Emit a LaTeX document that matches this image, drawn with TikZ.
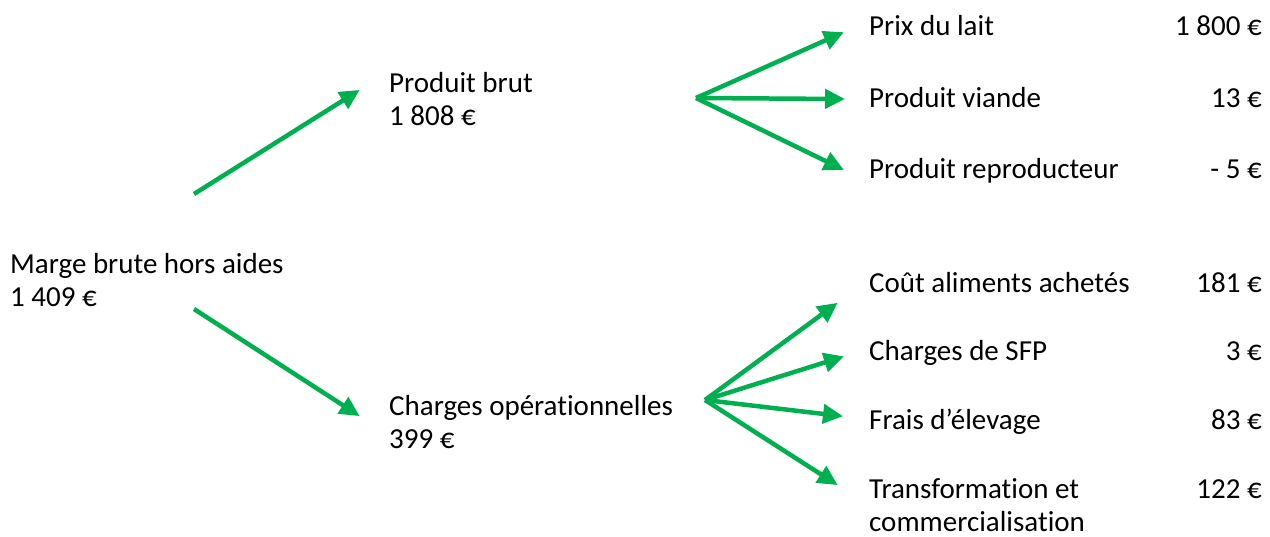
\documentclass[tikz,border=0pt]{standalone}
\usepackage{fontspec}
\setmainfont{Carlito}[Ligatures={NoCommon}]
\usetikzlibrary{arrows.meta}
\definecolor{officegreen}{HTML}{00B050}
\begin{document}
\begin{tikzpicture}[x=1pt,y=-1pt,
  lbl/.style={anchor=base west,inner sep=0pt,font=\fontsize{29}{33}\selectfont},
  val/.style={anchor=base east,inner sep=0pt,font=\fontsize{29}{33}\selectfont},
  garrow/.style={draw=officegreen,line width=4.5pt,-{Triangle[length=20pt,width=19pt]},shorten >=-2pt}]
\useasboundingbox (0,0) rectangle (1270,536);
% left
\node[lbl] (mbh) at (10,273) {Marge brute hors aides};
\node[lbl] (mbhv) at (10,306) {1 409 €};
% middle
\node[lbl] (pb) at (389,92) {Produit brut};
\node[lbl] (pbv) at (389,125) {1 808 €};
\node[lbl] (co) at (389,415) {Charges opérationnelles};
\node[lbl] (cov) at (389,448) {399 €};
% right top
\node[lbl] (pl) at (869,35) {Prix du lait};
\node[val] (plv) at (1262,35) {1 800 €};
\node[lbl] (pv) at (869,107) {Produit viande};
\node[val] (pvv) at (1262,107) {13 €};
\node[lbl] (pr) at (869,178) {Produit reproducteur};
\node[val] (prv) at (1262,178) {- 5 €};
% right bottom
\node[lbl] (ca) at (869,292) {Coût aliments achetés};
\node[val] (cav) at (1262,292) {181 €};
\node[lbl] (cs) at (869,360) {Charges de SFP};
\node[val] (csv) at (1262,360) {3 €};
\node[lbl] (fe) at (869,429) {Frais d’élevage};
\node[val] (fev) at (1262,429) {83 €};
\node[lbl] (tc) at (869,498) {Transformation et};
\node[lbl] (tc2) at (869,531) {commercialisation};
\node[val] (tcv) at (1262,498) {122 €};
% arrow endpoints
\coordinate (s1) at (194,194);
\coordinate (e1) at (358,91);
\coordinate (s2) at (194,309);
\coordinate (e2) at (358,415);
\coordinate (f1) at (696,98);
\coordinate (t1) at (842,33);
\coordinate (t2) at (843,99);
\coordinate (t3) at (842,169);
\coordinate (f2) at (705,400);
\coordinate (u1) at (836,304);
\coordinate (u2) at (842,357);
\coordinate (u3) at (841,416);
\coordinate (u4) at (836,484);
\draw[garrow] (s1) -- (e1);
\draw[garrow] (s2) -- (e2);
\draw[garrow] (f1) -- (t1);
\draw[garrow] (f1) -- (t2);
\draw[garrow] (f1) -- (t3);
\draw[garrow] (f2) -- (u1);
\draw[garrow] (f2) -- (u2);
\draw[garrow] (f2) -- (u3);
\draw[garrow] (f2) -- (u4);
\end{tikzpicture}
\end{document}
